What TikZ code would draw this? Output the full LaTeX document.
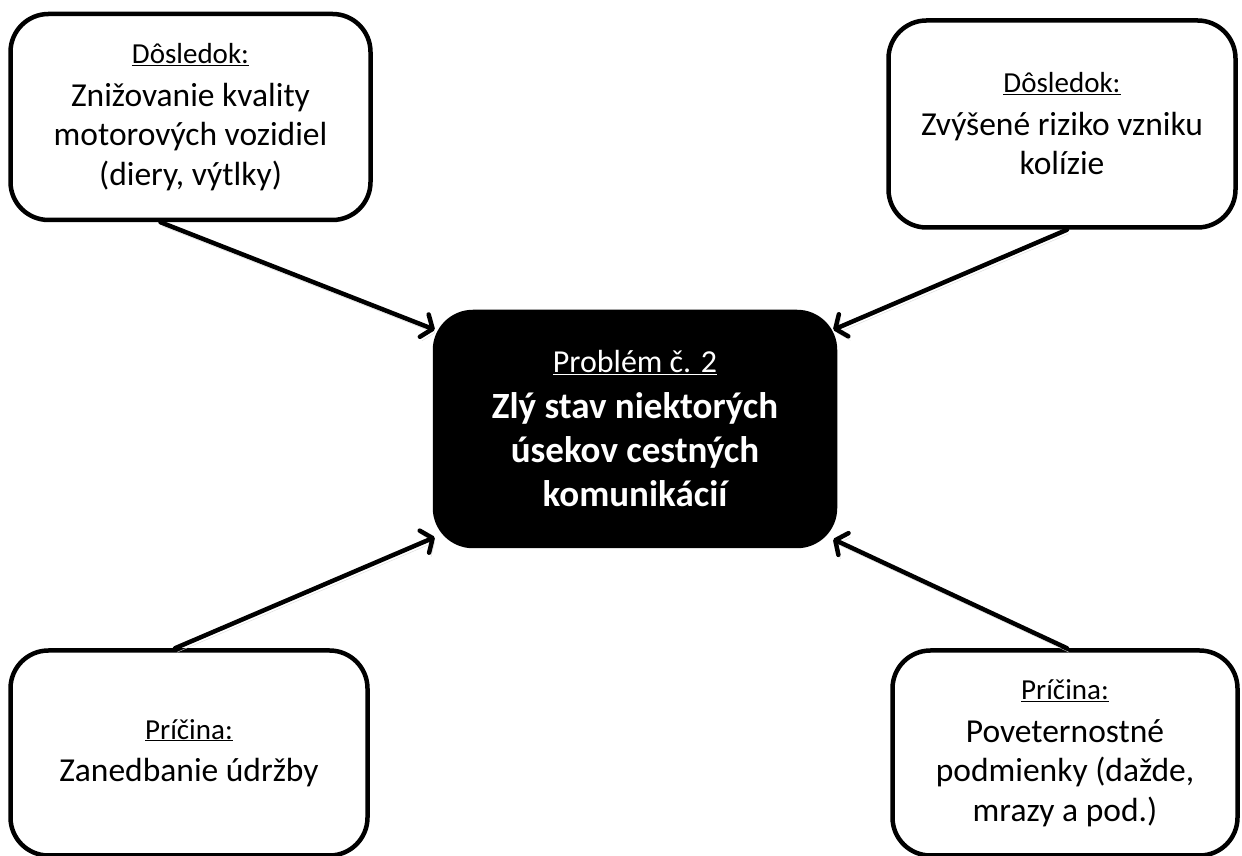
\documentclass[tikz,border=0pt]{standalone}
\usepackage{fontspec}
\setmainfont{Carlito}
\usetikzlibrary{arrows.meta}
\newcommand{\boxhead}[1]{{\fontsize{29}{40}\selectfont\underline{#1}}}
\newcommand{\problemhead}[1]{{\fontsize{32}{44}\selectfont\underline{#1}}}

\begin{document}
\begin{tikzpicture}
        [x=1pt,y=1pt,
        box/.style={rectangle,draw,line width=4.5pt,rounded corners=38pt,align=center,inner sep=0pt,font=\fontsize{33.5}{39.5}\selectfont},
        problem/.style={box,fill=black,text=white,font=\fontsize{37}{44}\selectfont\bfseries},
        link/.style={line width=4.5pt,line cap=round,-{Straight Barb[length=9pt,width=24pt,round]},
          preaction={draw=black!15,transform canvas={xshift=2pt,yshift=-4pt}}},
        ]
        \useasboundingbox (0,0) rectangle (1242,856);
        \node[problem,minimum width=400pt,minimum height=234pt] (problem) at (635, 427) {\problemhead{\mdseries Problém č. 2}\\[2pt]Zlý stav niektorých\\úsekov cestných\\komunikácií};
        \node[box,minimum width=360pt,minimum height=206pt] (dosledok-1) at (190.5, 739) {\boxhead{Dôsledok:}\\[3pt]Znižovanie kvality\\motorových vozidiel\\(diery, výtlky)};
        \node[box,minimum width=347pt,minimum height=207pt] (dosledok-2) at (1062, 732) {\boxhead{Dôsledok:}\\[3pt]Zvýšené riziko vzniku\\kolízie};
        \node[box,minimum width=357pt,minimum height=205pt] (pricina-1) at (189, 103) {\boxhead{Príčina:}\\[3pt]Zanedbanie údržby};
        \node[box,minimum width=345pt,minimum height=205pt] (pricina-2) at (1065, 103) {\boxhead{Príčina:}\\[3pt]Poveternostné\\podmienky (dažde,\\mrazy a pod.)};
        \draw[link] ([xshift=-30pt]dosledok-1.south) -- ([xshift=2pt,yshift=-20pt]problem.north west);
        \draw[link] ([xshift=5pt]dosledok-2.south) -- ([xshift=-4pt,yshift=-20pt]problem.north east);
        \draw[link] ([xshift=-14pt]pricina-1.north) -- ([xshift=2pt,yshift=11pt]problem.south west);
        \draw[link] ([xshift=2pt]pricina-2.north) -- ([xshift=-4pt,yshift=9pt]problem.south east);
    \end{tikzpicture}
\end{document}
